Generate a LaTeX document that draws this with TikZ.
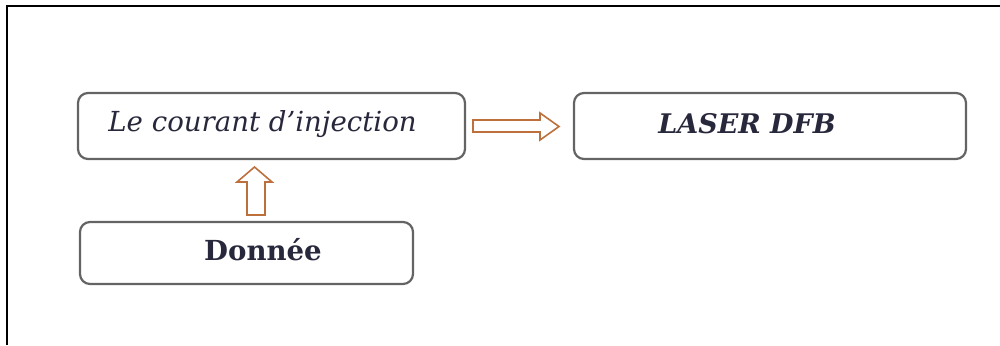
\documentclass[tikz,border=0pt]{standalone}
\usepackage{fontspec}
\setmainfont{DejaVu Serif}
\usetikzlibrary{shapes.arrows}
\definecolor{arrowbrown}{RGB}{190,112,60}
\definecolor{boxgray}{RGB}{100,100,100}
\definecolor{textdark}{RGB}{40,40,60}
\tikzset{
  roundbox/.style={draw=boxgray, line width=1.1pt, rounded corners=5pt, fill=white},
  blockarrow/.style={draw=arrowbrown, line width=0.8pt, fill=white, line join=miter},
  lbl/.style={text=textdark, inner sep=0pt}
}
\begin{document}
\begin{tikzpicture}[x=0.5pt,y=-0.5pt]
\useasboundingbox (0,0) rectangle (1000,345);
% frame
\draw[line width=1pt] (7,345) -- (7,6) -- (1000,6);
% boxes
\draw[roundbox] (78,93) rectangle (465,159);
\draw[roundbox] (574,93) rectangle (966,159);
\draw[roundbox] (80,222) rectangle (413,284);
% labels
\node[lbl, anchor=west, font=\fontsize{13.8}{16}\selectfont\itshape] (t1) at (108,124) {Le courant d\char39 injection};
\node[lbl, font=\fontsize{13.5}{16}\selectfont\itshape\bfseries] (t2) at (747,124) {LASER DFB};
\node[lbl, font=\fontsize{13.8}{16}\selectfont\bfseries] (t3) at (263,250) {Donnée};
% right block arrow
\draw[blockarrow] (473,120) -- (540,120) -- (540,113) -- (559,126.5) -- (540,140) -- (540,132) -- (473,132) -- cycle;
% up block arrow
\draw[blockarrow] (247,215) -- (247,182) -- (237,182) -- (254.5,167) -- (272,182) -- (265,182) -- (265,215) -- cycle;
\end{tikzpicture}
\end{document}
